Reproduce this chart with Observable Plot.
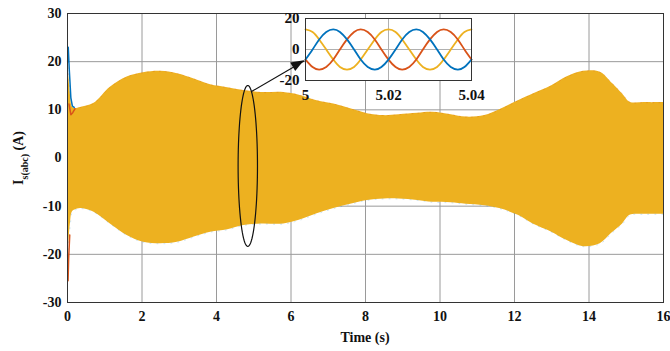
<!DOCTYPE html>
<html>
<head>
<meta charset="utf-8">
<script src="https://cdn.jsdelivr.net/npm/d3@7"></script>
<script src="https://cdn.jsdelivr.net/npm/@observablehq/plot@0.6"></script>
<style>
  html, body { margin: 0; padding: 0; background: #fff; }
  #wrap { position: relative; width: 670px; height: 351px; overflow: hidden; }
  #inset { position: absolute; left: 265px; top: 0px; }
  svg { overflow: visible; }
</style>
</head>
<body>
<div id="wrap"><div id="main"></div><div id="inset"></div></div>
<script>
// ---- main chart data: envelope of the three-phase current
const envT  = [0, 0.04, 0.08, 0.13, 0.2, 0.35, 0.7, 1.15, 1.6, 2.04, 2.5, 2.95, 3.4, 3.84, 4.3, 4.73, 5.2, 5.8, 6.2, 6.7, 7.15, 7.6, 8.05, 8.5, 8.9, 9.4, 9.8, 10.3, 10.7, 11.2, 11.6, 12.1, 12.5, 13.0, 13.4, 13.85, 14.3, 14.6, 14.9, 15.1, 15.5, 16];
const envHi = [20, 16.5, 13, 10.6, 10.3, 10.5, 11.3, 14.7, 16.8, 17.7, 18.0, 17.5, 16.4, 15.2, 14.6, 14.0, 13.6, 13.6, 13.1, 11.9, 11.2, 10.2, 9.2, 8.8, 9.0, 9.3, 9.5, 9.0, 8.5, 8.8, 10.0, 11.9, 13.3, 15.0, 16.8, 18.0, 17.8, 15.7, 13.3, 11.6, 11.5, 11.5];
const envLo = [-20.5, -17, -13.5, -11.2, -10.8, -10.5, -11.2, -13.7, -16.1, -17.5, -17.8, -17.5, -16.4, -15.4, -14.9, -14.0, -13.7, -13.7, -13.0, -11.6, -10.5, -9.6, -8.8, -8.5, -8.5, -8.8, -9.2, -9.3, -9.6, -9.9, -10.5, -11.9, -13.7, -15.4, -17.1, -18.4, -17.8, -15.7, -13.7, -11.9, -11.7, -11.7];

// start-up transients
const blueT = [0.005, 0.02, 0.05, 0.09, 0.13, 0.18];
const blueV = [20, 23, 18, 12.5, 10.8, 10.5];
const redT  = [0.005, 0.015, 0.03, 0.06];
const redV  = [-20, -25.5, -21, -16];
const redT2 = [0.04, 0.09, 0.14, 0.2];
const redV2 = [11.2, 9.0, 9.4, 10.2];

const xTicks = [0, 2, 4, 6, 8, 10, 12, 14, 16];
const yTicks = [-30, -20, -10, 0, 10, 20, 30];

// ---- inset data: zoom 5.00 – 5.04 s
const insetT = [5.0000, 5.0017, 5.0033, 5.0050, 5.0067, 5.0083, 5.0100, 5.0117, 5.0133, 5.0150, 5.0167, 5.0183, 5.0200, 5.0217, 5.0233, 5.0250, 5.0267, 5.0283, 5.0300, 5.0317, 5.0333, 5.0350, 5.0367, 5.0383, 5.0400];
const phaseYellow = [13, 11.3, 6.5, 0, -6.5, -11.3, -13, -11.3, -6.5, 0, 6.5, 11.3, 13, 11.3, 6.5, 0, -6.5, -11.3, -13, -11.3, -6.5, 0, 6.5, 11.3, 13];
const phaseBlue   = [-6.5, 0, 6.5, 11.3, 13, 11.3, 6.5, 0, -6.5, -11.3, -13, -11.3, -6.5, 0, 6.5, 11.3, 13, 11.3, 6.5, 0, -6.5, -11.3, -13, -11.3, -6.5];
const phaseRed    = [-6.5, -11.3, -13, -11.3, -6.5, 0, 6.5, 11.3, 13, 11.3, 6.5, 0, -6.5, -11.3, -13, -11.3, -6.5, 0, 6.5, 11.3, 13, 11.3, 6.5, 0, -6.5];
const insetXTicks = [5, 5.02, 5.04];
const insetYTicks = [-20, 0, 20];

// annotation (ellipse around t≈4.85 s and arrow to the inset), in data units
const ell = {cx: 4.84, cy: -1.65, rx: 0.26, ry: 16.7};
const arrowFrom = {t: 4.94, v: 13.8};
const arrowTo = {t: 6.36, v: 20.2};

const YELLOW = "#EDB120", BLUE = "#0072BD", RED = "#D95319";
const SERIF = "'Liberation Serif', 'Times New Roman', serif";

const env = envT.map((t, i) => ({t, hi: envHi[i], lo: envLo[i]}));
const blue = blueT.map((t, i) => ({t, v: blueV[i]}));
const red = redT.map((t, i) => ({t, v: redV[i]}));
const red2 = redT2.map((t, i) => ({t, v: redV2[i]}));
const ellipse = d3.range(0, 361, 4).map(a => ({
  t: ell.cx + ell.rx * Math.cos(a * Math.PI / 180),
  v: ell.cy + ell.ry * Math.sin(a * Math.PI / 180)
}));

const font = {fontFamily: SERIF, fontWeight: "bold", fontSize: "14px", color: "#111", background: "transparent"};

const main = Plot.plot({
  width: 670, height: 351,
  marginLeft: 67, marginRight: 7, marginTop: 13, marginBottom: 49,
  style: font,
  x: {domain: [0, 16]},
  y: {domain: [-30, 30]},
  marks: [
    Plot.gridX(xTicks, {stroke: "#9a9a9a", strokeOpacity: 1}),
    Plot.gridY(yTicks, {stroke: "#9a9a9a", strokeOpacity: 1}),
    Plot.areaY(env, {x: "t", y1: "lo", y2: "hi", fill: YELLOW, curve: "catmull-rom"}),
    Plot.line(env, {x: "t", y: "hi", stroke: RED, strokeWidth: 0.8, strokeOpacity: 0.3, strokeDasharray: "1 5", curve: "catmull-rom"}),
    Plot.line(env, {x: "t", y: "lo", stroke: BLUE, strokeWidth: 0.8, strokeOpacity: 0.25, strokeDasharray: "1 6", curve: "catmull-rom"}),
    Plot.line(blue, {x: "t", y: "v", stroke: BLUE, strokeWidth: 1.5}),
    Plot.line(red, {x: "t", y: "v", stroke: RED, strokeWidth: 1.5}),
    Plot.line(red2, {x: "t", y: "v", stroke: RED, strokeWidth: 1.5}),
    Plot.frame({stroke: "#333", strokeWidth: 1}),
    Plot.axisX(xTicks, {tickSize: 0, tickPadding: 9, label: null, tickFormat: d => String(d)}),
    Plot.axisY(yTicks, {tickSize: 0, tickPadding: 6, label: null, tickFormat: d => String(d)}),
    Plot.line(ellipse, {x: "t", y: "v", stroke: "#111", strokeWidth: 1.2}),
    Plot.link([0], {x1: () => arrowFrom.t, y1: () => arrowFrom.v, x2: () => arrowTo.t, y2: () => arrowTo.v, stroke: "#111", strokeWidth: 1.2})
  ]
});
document.getElementById("main").appendChild(main);

const svg = d3.select(main);
const sx = main.scale("x"), sy = main.scale("y");

// filled arrow head
{
  const x1 = sx.apply(arrowFrom.t), y1 = sy.apply(arrowFrom.v);
  const x2 = sx.apply(arrowTo.t), y2 = sy.apply(arrowTo.v);
  const a = Math.atan2(y2 - y1, x2 - x1), L = 13, W = 5;
  const bx = x2 - L * Math.cos(a), by = y2 - L * Math.sin(a);
  const pts = [[x2, y2], [bx + W * Math.sin(a), by - W * Math.cos(a)], [bx - W * Math.sin(a), by + W * Math.cos(a)]];
  svg.append("polygon").attr("points", pts.map(p => p.join(",")).join(" ")).attr("fill", "#111");
}

// x-axis title
svg.append("text")
  .attr("x", (sx.range[0] + sx.range[1]) / 2).attr("y", 342)
  .attr("text-anchor", "middle").attr("fill", "#111")
  .style("font-family", SERIF).style("font-weight", "bold").style("font-size", "14px")
  .text("Time (s)");

// y-axis title with subscript
const lbl = svg.append("text")
  .attr("transform", "translate(23,158) rotate(-90)")
  .attr("text-anchor", "middle")
  .attr("fill", "#111")
  .style("font-family", SERIF)
  .style("font-weight", "bold")
  .style("font-size", "14px");
lbl.append("tspan").text("I");
lbl.append("tspan").attr("dy", 5).style("font-size", "10px").text("s(abc)");
lbl.append("tspan").attr("dy", -5).text(" (A)");

// inset
const inset = Plot.plot({
  width: 220, height: 110,
  marginLeft: 40, marginRight: 14, marginTop: 18, marginBottom: 30,
  style: {...font, fontSize: "15px"},
  x: {domain: [5, 5.04]},
  y: {domain: [-20, 20]},
  marks: [
    Plot.frame({fill: "white", stroke: "none"}),
    Plot.gridX([5.02], {stroke: "#b0b0b0", strokeOpacity: 1}),
    Plot.gridY([0], {stroke: "#b0b0b0", strokeOpacity: 1}),
    Plot.line(insetT, {x: d => d, y: (d, i) => phaseYellow[i], stroke: YELLOW, strokeWidth: 1.8, curve: "natural"}),
    Plot.line(insetT, {x: d => d, y: (d, i) => phaseRed[i], stroke: RED, strokeWidth: 1.8, curve: "natural"}),
    Plot.line(insetT, {x: d => d, y: (d, i) => phaseBlue[i], stroke: BLUE, strokeWidth: 1.8, curve: "natural"}),
    Plot.frame({stroke: "#333", strokeWidth: 1}),
    Plot.axisX(insetXTicks, {tickSize: 0, tickPadding: 9, label: null, tickFormat: d => d === 5 ? "5" : d.toFixed(2)}),
    Plot.axisY(insetYTicks, {tickSize: 0, tickPadding: 6, label: null, tickFormat: d => String(d)})
  ]
});
document.getElementById("inset").appendChild(inset);
</script>
</body>
</html>
